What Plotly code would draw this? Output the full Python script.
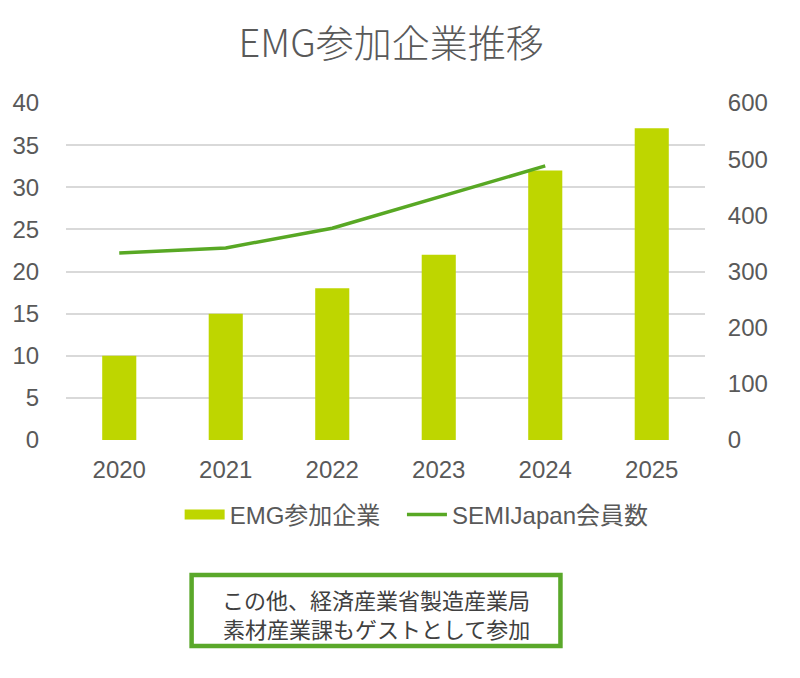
import plotly.graph_objects as go

years = ["2020", "2021", "2022", "2023", "2024", "2025"]
emg_companies = [10, 15, 18, 22, 32, 37]
semi_years = ["2020", "2021", "2022", "2023", "2024"]
semi_members = [333, 342, 377, 433, 488]

left_ticks = [0, 5, 10, 15, 20, 25, 30, 35, 40]
right_ticks = [0, 100, 200, 300, 400, 500, 600]

note_lines = ["この他、経済産業省製造産業局", "素材産業課もゲストとして参加"]

FONT = "Liberation Sans, Arial, Noto Sans CJK JP, sans-serif"
CJK = "Noto Sans CJK JP, sans-serif"
GRAY = "#595959"
BAR = "#bed600"
LINE = "#58a824"

# plot area in pixels: left 64, right 705, top 103, bottom 440
PL, PR, PT, PB = 64, 705, 103, 440
def px(x):
    return (x - PL) / (PR - PL)
def py(y):
    return (PB - y) / (PB - PT)

fig = go.Figure()
fig.add_trace(go.Bar(
    x=years, y=emg_companies, name="EMG参加企業",
    marker=dict(color=BAR, line=dict(width=0)),
    yaxis="y", showlegend=False,
))
# legend entry drawn as a wide bar swatch
fig.add_trace(go.Scatter(
    x=[None], y=[None], name="EMG参加企業", mode="lines",
    line=dict(color=BAR, width=14), yaxis="y", hoverinfo="skip",
    legend="legend",
))
fig.add_trace(go.Scatter(
    x=semi_years, y=semi_members, name="SEMIJapan会員数",
    mode="lines", line=dict(color=LINE, width=3.5),
    yaxis="y2", legend="legend2",
))

leg_common = dict(orientation="h", yanchor="middle", y=py(515), xanchor="left",
                  font=dict(size=24, color=GRAY, family=FONT), itemwidth=40,
                  bgcolor="rgba(0,0,0,0)")

fig.update_layout(
    width=800, height=678,
    margin=dict(l=PL, r=800 - PR, t=PT, b=678 - PB),
    paper_bgcolor="white", plot_bgcolor="white",
    font=dict(family=FONT, color=GRAY, size=24),
    title=dict(text="EMG参加企業推移", x=0.489, xanchor="center", y=0.935, yanchor="middle",
               font=dict(family=CJK, size=38, color=GRAY, weight=300)),
    bargap=0.68,
    showlegend=True,
    legend=dict(x=px(178), **leg_common),
    legend2=dict(x=px(401), **leg_common),
    xaxis=dict(showgrid=False, showline=False, zeroline=False,
               ticks="outside", ticklen=8, tickcolor="rgba(0,0,0,0)",
               tickfont=dict(size=24, color=GRAY)),
    yaxis=dict(range=[0, 40], tickvals=left_ticks, showgrid=True, gridcolor="#d9d9d9",
               gridwidth=1.5, zeroline=False, showline=False,
               ticks="outside", ticklen=21, tickcolor="rgba(0,0,0,0)",
               tickfont=dict(size=24, color=GRAY)),
    yaxis2=dict(range=[0, 600], tickvals=right_ticks, overlaying="y", side="right",
                showgrid=False, zeroline=False, showline=False,
                ticks="outside", ticklen=17, tickcolor="rgba(0,0,0,0)",
                tickfont=dict(size=24, color=GRAY)),
)

fig.add_shape(type="rect", xref="paper", yref="paper",
              x0=px(190), x1=px(560), y0=py(646), y1=py(575),
              line=dict(color="#5aa82a", width=4.5), fillcolor="white", layer="above")

for i, txt in enumerate(note_lines):
    fig.add_annotation(
        xref="paper", yref="paper", x=px(375), y=py(599 + 29 * i),
        xanchor="center", yanchor="middle", text=txt, showarrow=False,
        font=dict(family=CJK, size=22, color="#404040"),
        height=28, borderpad=0,
    )

fig.write_html("out.html")
